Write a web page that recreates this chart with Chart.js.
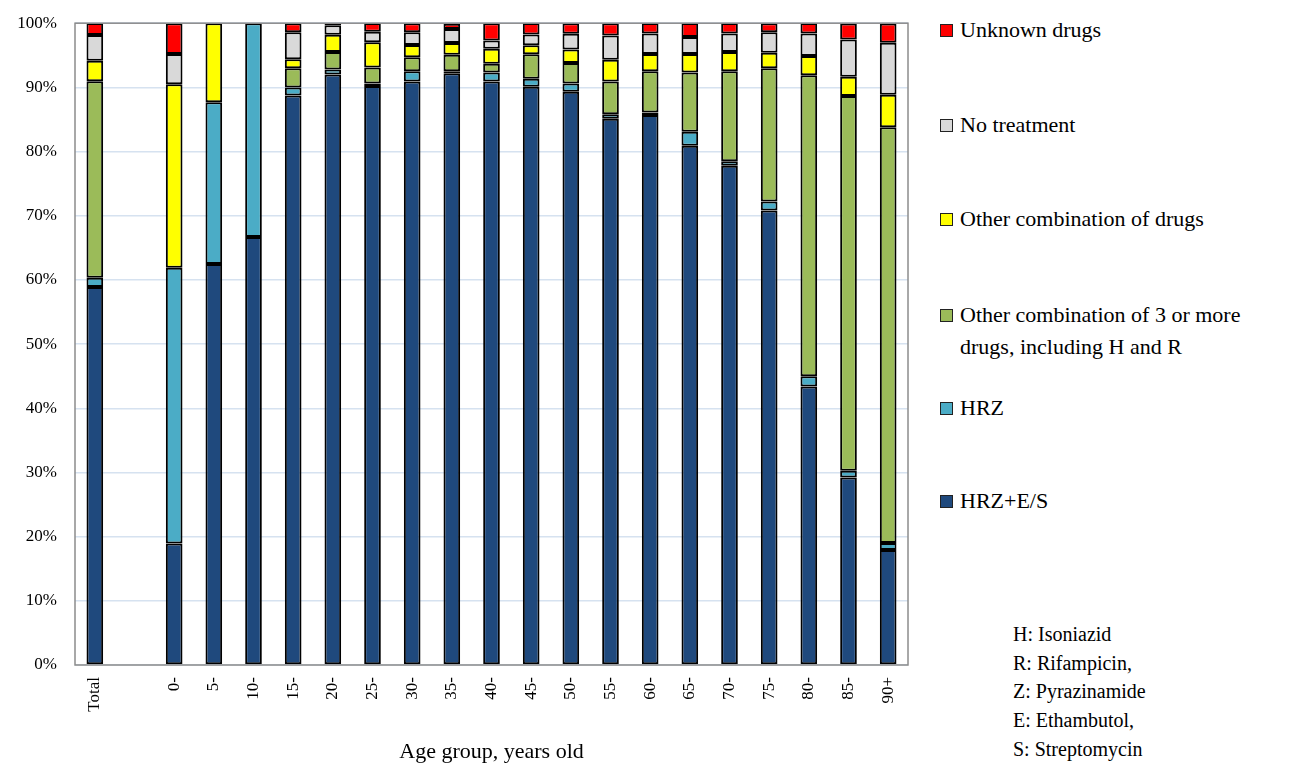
<!DOCTYPE html>
<html>
<head>
<meta charset="utf-8">
<script src="https://cdn.jsdelivr.net/npm/chart.js@4"></script>
<style>
  body { margin: 0; background: #fff; font-family: "Liberation Serif", "Times New Roman", serif; overflow: hidden; }
  #wrap { position: relative; width: 1313px; height: 765px; overflow: hidden; }
  #chartBox { position: absolute; left: 0; top: -5px; width: 925px; height: 770px; }
  .legend { position: absolute; left: 940px; color: #000; font-size: 22px; line-height: 32px; }
  .legend .sw { position: absolute; left: 0; top: 10px; width: 11px; height: 11px; border: 1px solid #222; }
  .legend .tx { margin-left: 20px; white-space: nowrap; }
  #notes { position: absolute; left: 1013px; top: 620px; font-size: 20px; line-height: 28.7px; color: #000; }
</style>
</head>
<body>
<div id="wrap">
  <div id="chartBox"><canvas id="dataChart"></canvas></div>
  <div id="legendBox"></div>
  <div id="notes">H: Isoniazid<br>R: Rifampicin,<br>Z: Pyrazinamide<br>E: Ethambutol,<br>S: Streptomycin</div>
</div>
<script>
'use strict';

let categories = ['Total', '', '0-', '5-', '10-', '15-', '20-', '25-', '30-', '35-', '40-', '45-', '50-',
  '55-', '60-', '65-', '70-', '75-', '80-', '85-', '90+'];

let seriesNames = ['HRZ+E/S', 'HRZ', 'Other combination of 3 or more drugs, including H and R',
  'Other combination of drugs', 'No treatment', 'Unknown drugs'];

let hrzesValues = [58.9, null, 18.95, 62.5, 66.7, 88.75, 92.0, 90.2, 90.9, 92.2, 90.9, 90.1, 89.3, 85.1, 85.7, 80.9, 77.8, 70.8, 43.4, 29.2, 17.9];
let hrzValues = [1.45, null, 42.95, 25.2, 33.3, 1.25, 0.8, 0.4, 1.6, 0.3, 1.4, 1.25, 1.3, 0.7, 0.4, 2.2, 0.7, 1.4, 1.6, 1.05, 1.1];
let otherThreeValues = [30.6, null, 0, 0, 0, 3.0, 2.7, 2.5, 2.2, 2.6, 1.4, 3.8, 3.2, 5.1, 6.4, 9.2, 14.0, 20.8, 46.9, 58.4, 64.8];
let otherValues = [3.2, null, 28.6, 12.3, 0, 1.4, 2.7, 3.95, 1.9, 1.8, 2.3, 1.4, 2.1, 3.4, 2.7, 2.9, 3.0, 2.4, 3.0, 3.0, 5.05];
let noTreatmentValues = [4.0, null, 4.7, 0, 0, 4.2, 1.5, 1.6, 2.0, 2.2, 1.3, 1.7, 2.45, 3.8, 3.2, 2.65, 2.9, 3.2, 3.5, 5.8, 8.1];
let unknownValues = [1.9, null, 4.8, 0, 0, 1.4, 0.3, 1.4, 1.4, 0.8, 2.7, 1.8, 1.65, 1.9, 1.65, 2.2, 1.65, 1.4, 1.65, 2.5, 3.0];

let yTicks = [0, 10, 20, 30, 40, 50, 60, 70, 80, 90, 100];

let colors = ['#1f497d', '#4bacc6', '#9bbb59', '#ffff00', '#d9d9d9', '#ff0000'];
let allValues = [hrzesValues, hrzValues, otherThreeValues, otherValues, noTreatmentValues, unknownValues];

let datasets = [];
for (let i = 0; i < seriesNames.length; i++) {
  datasets.push({
    label: seriesNames[i],
    data: allValues[i],
    backgroundColor: colors[i],
    borderColor: '#000',
    borderWidth: 2,
    borderSkipped: false,
    stack: 'one',
    categoryPercentage: 1.0,
    barPercentage: 0.42
  });
}

// frame round the plot area
let framePlugin = {
  id: 'frame',
  afterDraw(chart) {
    let a = chart.chartArea;
    let ctx = chart.ctx;
    ctx.save();
    ctx.strokeStyle = '#8c8c8c';
    ctx.lineWidth = 1.5;
    ctx.strokeRect(a.left, a.top, a.right - a.left, a.bottom - a.top);
    ctx.restore();
  }
};

let serif = 'Liberation Serif';

// eslint-disable-next-line no-unused-vars
let chart = new Chart(document.getElementById('dataChart').getContext('2d'), {
  type: 'bar',
  data: { labels: categories, datasets: datasets },
  options: {
    responsive: true,
    maintainAspectRatio: false,
    animation: false,
    layout: { padding: { top: 18, right: 17, left: 0, bottom: 0 } },
    plugins: { legend: { display: false }, tooltip: { enabled: false } },
    scales: {
      x: {
        stacked: true,
        grid: { display: false },
        border: { display: false },
        ticks: {
          color: '#000',
          font: { family: serif, size: 17 },
          maxRotation: 90,
          minRotation: 90,
          autoSkip: false,
          padding: 4
        },
        title: {
          display: true,
          text: 'Age group, years old',
          color: '#000',
          font: { family: serif, size: 22 },
          padding: { top: 0, bottom: 0 }
        },
        afterFit(scale) { scale.height = 100; }
      },
      y: {
        stacked: true,
        min: 0,
        max: 100,
        afterBuildTicks(scale) { scale.ticks = yTicks.map(v => ({ value: v })); },
        grid: { color: '#d6e2f0', lineWidth: 1.5, drawTicks: false },
        border: { display: false },
        ticks: {
          color: '#000',
          font: { family: serif, size: 17 },
          padding: 18,
          callback: v => v + '%'
        },
        afterFit(scale) { scale.width = 75; }
      }
    }
  },
  plugins: [framePlugin]
});

// legend on the right, drawn top to bottom from the last series
let legendBox = document.getElementById('legendBox');
let legendTops = [14, 109, 203, 299, 392, 485];
let legendTexts = ['Unknown drugs', 'No treatment', 'Other combination of drugs',
  'Other combination of 3 or more<br>drugs, including H and R', 'HRZ', 'HRZ+E/S'];
for (let i = 0; i < legendTexts.length; i++) {
  let item = document.createElement('div');
  item.className = 'legend';
  item.style.top = legendTops[i] + 'px';
  let sw = document.createElement('div');
  sw.className = 'sw';
  sw.style.background = colors[colors.length - 1 - i];
  let tx = document.createElement('div');
  tx.className = 'tx';
  tx.innerHTML = legendTexts[i];
  item.appendChild(sw);
  item.appendChild(tx);
  legendBox.appendChild(item);
}
</script>
</body>
</html>
